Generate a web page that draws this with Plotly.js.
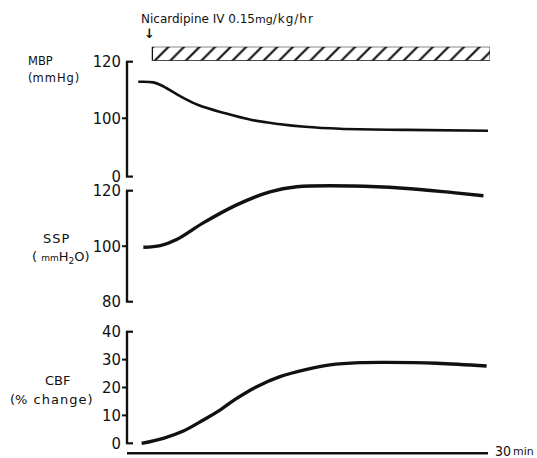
<!DOCTYPE html>
<html>
<head>
<meta charset="utf-8">
<script src="https://cdn.plot.ly/plotly-3.0.1.min.js"></script>
<style>html,body{margin:0;padding:0;background:#fff;}#chart{width:537px;height:458px;}</style>
</head>
<body>
<div id="chart"></div>
<script>
// ---- data (time in minutes from start of infusion) ----
const drugStart = 0.3;
const drugEnd = 30.2;
const timeEnd = 30;

const mbpTime = [-0.95, 0.38, 1.12, 2.59, 4.36, 6.73, 9.09, 11.44, 13.81, 16.9, 22.8, 30.0];
const mbpValue = [112.9, 112.7, 111.6, 108.2, 104.7, 101.8, 99.4, 98.0, 97.0, 96.3, 95.9, 95.6];

const sspTime = [-0.5, 1.0, 2.45, 4.8, 7.76, 10.7, 13.07, 18.08, 22.5, 26.9, 29.6];
const sspValue = [99.6, 100.2, 102.4, 108.4, 114.9, 119.6, 121.4, 121.7, 120.9, 119.3, 118.2];

const cbfTime = [-0.65, 1.27, 3.04, 4.81, 6.28, 7.76, 9.53, 11.59, 13.96, 16.02, 18.67, 21.0, 25.46, 29.88];
const cbfValue = [0.0, 1.8, 4.4, 8.35, 11.9, 16.1, 20.3, 23.9, 26.5, 28.1, 28.9, 29.0, 28.7, 27.7];

const mbpTicks = [79.4, 100, 120];
const mbpTickText = ['0', '100', '120'];
const sspTicks = [80, 100, 120];
const sspTickText = ['80', '100', '120'];
const cbfTicks = [0, 10, 20, 30, 40];
const cbfTickText = ['0', '10', '20', '30', '40'];

// ---- layout geometry ----
const W = 537, H = 458;
const L = 122, R = 47;
const plotW = W - L - R;
const xPx0 = 149, xPxPerMin = 11.3;
const xRange = [(L - xPx0) / xPxPerMin, (W - R - xPx0) / xPxPerMin];
const axisPx = 127;
const axisT = (axisPx - xPx0) / xPxPerMin; // where the vertical axes stand

function yAxisGeom(v1, p1, v2, p2, pTop, pBot) {
  const k = (p2 - p1) / (v2 - v1);
  const vTop = v1 + (pTop - p1) / k;
  const vBot = v1 + (pBot - p1) / k;
  const toPaper = v => 1 - (p1 + (v - v1) * k) / H;
  return { domain: [1 - pBot / H, 1 - pTop / H], range: [vBot, vTop], toPaper };
}
const g1 = yAxisGeom(120, 61.7, 100, 118.3, 50, 182);
const g2 = yAxisGeom(120, 190.7, 80, 301.7, 180, 308);
const g3 = yAxisGeom(40, 331.7, 0, 443.3, 320, 450);
const g4 = { domain: [1 - 60.7 / H, 1 - 46.7 / H], range: [-0.5, 0.5] };

const px = x => (x - L) / plotW;
const py = y => 1 - y / H;

const ink = '#111';
const tickFont = { family: 'Liberation Sans Narrow, DejaVu Sans Condensed, sans-serif', size: 16.5, color: ink };
const lab = s => ({ family: 'DejaVu Sans, sans-serif', size: s, color: ink });

function yax(g, tv, tt) {
  return {
    domain: g.domain, range: g.range, anchor: 'x',
    showline: false, showgrid: false, zeroline: false,
    tickmode: 'array', tickvals: tv, ticktext: tt,
    ticks: '', tickfont: tickFont, fixedrange: true
  };
}

const lineStyle = w => ({ color: ink, width: w, shape: 'spline', smoothing: 1 });

// vertical axis spines as line traces spanning first..last tick
const spine = (yaxis, tv) => ({ type: 'scatter', mode: 'lines', x: [axisT, axisT], y: [tv[0], tv[tv.length - 1]],
  xaxis: 'x', yaxis: yaxis, line: { color: ink, width: 2.2 }, showlegend: false });

const traces = [
  spine('y', mbpTicks), spine('y2', sspTicks), spine('y3', cbfTicks),
  { type: 'scatter', mode: 'lines', x: mbpTime, y: mbpValue, xaxis: 'x', yaxis: 'y', line: lineStyle(2.6) },
  { type: 'scatter', mode: 'lines', x: sspTime, y: sspValue, xaxis: 'x', yaxis: 'y2', line: lineStyle(3.4) },
  { type: 'scatter', mode: 'lines', x: cbfTime, y: cbfValue, xaxis: 'x', yaxis: 'y3', line: lineStyle(3.4) },
  { type: 'bar', orientation: 'h', y: [0], x: [drugEnd - drugStart], base: [drugStart], xaxis: 'x', yaxis: 'y4',
    width: [1],
    marker: { color: '#fff', line: { color: ink, width: 1.3 },
      pattern: { shape: '/', fgcolor: ink, bgcolor: '#fff', size: 11, solidity: 0.2 } } }
];

// bracket: spine (paper-referenced backup), right stubs at ends, left ticks inside
const shapes = [];
function bracket(yref, g, tv) {
  const lo = tv[0], hi = tv[tv.length - 1];
  shapes.push({ type: 'line', xref: 'paper', yref: 'paper', x0: px(axisPx), x1: px(axisPx),
    y0: g.toPaper(lo), y1: g.toPaper(hi), line: { color: ink, width: 2.2 } });
  [lo, hi].forEach(v => shapes.push({ type: 'line', xref: 'x', xsizemode: 'pixel', xanchor: axisT, x0: -1.1, x1: 6,
    yref: yref, y0: v, y1: v, line: { color: ink, width: 2.2 } }));
  tv.slice(1, -1).forEach(v => shapes.push({ type: 'line', xref: 'x', xsizemode: 'pixel', xanchor: axisT, x0: -5, x1: 0,
    yref: yref, y0: v, y1: v, line: { color: ink, width: 2 } }));
}
bracket('y', g1, mbpTicks);
bracket('y2', g2, sspTicks);
bracket('y3', g3, cbfTicks);
// time base line
shapes.push({ type: 'line', xref: 'x', yref: 'paper', x0: axisT, x1: timeEnd, y0: py(453.3), y1: py(453.3), line: { color: ink, width: 2.4 } });

const annotations = [
  { text: 'Nicardipine IV 0.15<span style="font-size:11px">mg</span><span style="letter-spacing:1px">/kg/hr</span>', xref: 'paper', yref: 'paper', x: px(139), y: py(19),
    xanchor: 'left', yanchor: 'middle', showarrow: false, font: lab(12) },
  { text: '<b>↓</b>', xref: 'x', yref: 'paper', x: 0, y: py(33), xanchor: 'center', yanchor: 'middle', showarrow: false, font: lab(13) },
  { text: 'MBP', xref: 'paper', yref: 'paper', x: px(26), y: py(61), xanchor: 'left', yanchor: 'middle', showarrow: false, font: lab(11.5) },
  { text: '(<span style="letter-spacing:1px">mmHg</span>)', xref: 'paper', yref: 'paper', x: px(26), y: py(78), xanchor: 'left', yanchor: 'middle', showarrow: false, font: lab(11.5) },
  { text: '<span style="letter-spacing:1px">SSP</span>', xref: 'paper', yref: 'paper', x: px(56), y: py(238), xanchor: 'center', yanchor: 'middle', showarrow: false, font: lab(13) },
  { text: '( <span style="font-size:9px">mm</span>H<sub>2</sub>O)', xref: 'paper', yref: 'paper', x: px(61), y: py(257), xanchor: 'center', yanchor: 'middle', showarrow: false, font: lab(13) },
  { text: 'CBF', xref: 'paper', yref: 'paper', x: px(57.5), y: py(380), xanchor: 'center', yanchor: 'middle', showarrow: false, font: lab(13) },
  { text: '(<span style="letter-spacing:1px">% change</span>)', xref: 'paper', yref: 'paper', x: px(51), y: py(399), xanchor: 'center', yanchor: 'middle', showarrow: false, font: lab(13) },
  { text: '30', xref: 'paper', yref: 'paper', x: px(493), y: py(451), xanchor: 'left', yanchor: 'middle', showarrow: false,
    font: { family: 'Liberation Sans Narrow, DejaVu Sans Condensed, sans-serif', size: 14, color: ink } },
  { text: 'min', xref: 'paper', yref: 'paper', x: px(511), y: py(451.5), xanchor: 'left', yanchor: 'middle', showarrow: false, font: lab(11) }
];

const layout = {
  width: W, height: H,
  margin: { l: L, r: R, t: 0, b: 0, pad: 0 },
  paper_bgcolor: '#fff', plot_bgcolor: 'rgba(0,0,0,0)',
  showlegend: false, bargap: 0,
  xaxis: { range: xRange, anchor: 'y3', visible: false, fixedrange: true },
  yaxis: yax(g1, mbpTicks, mbpTickText),
  yaxis2: yax(g2, sspTicks, sspTickText),
  yaxis3: yax(g3, cbfTicks, cbfTickText),
  yaxis4: { domain: g4.domain, range: g4.range, anchor: 'x', visible: false, fixedrange: true },
  shapes: shapes,
  annotations: annotations
};

Plotly.newPlot('chart', traces, layout, { displayModeBar: false, staticPlot: true });
</script>
</body>
</html>
